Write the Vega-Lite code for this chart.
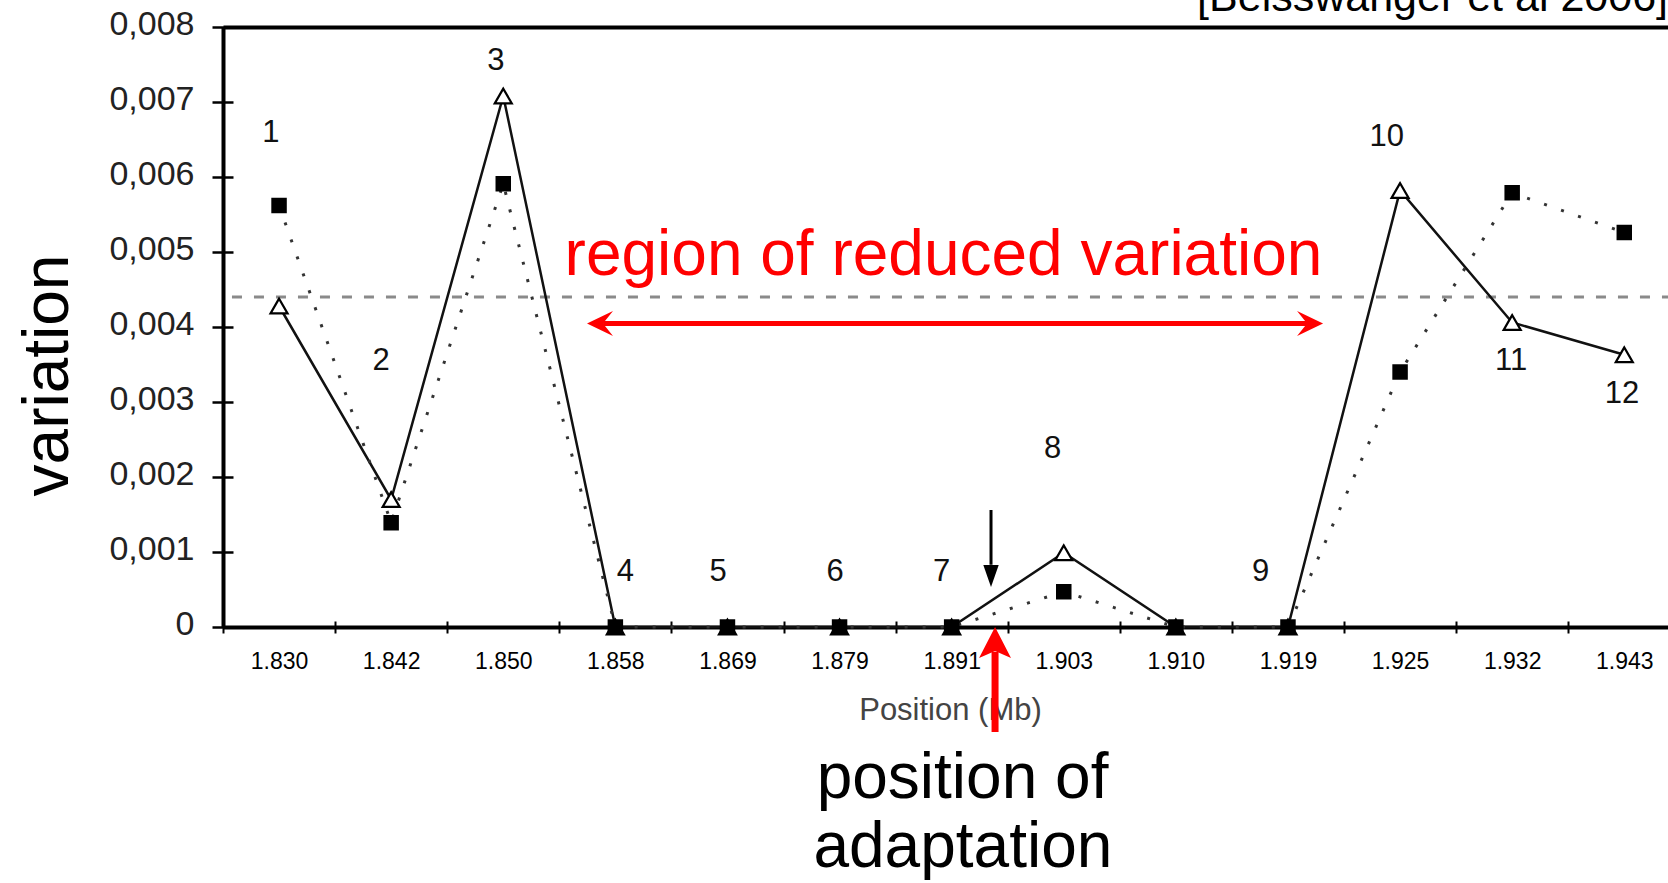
{
  "$schema": "https://vega.github.io/schema/vega-lite/v6.json",
  "width": 1445,
  "height": 600,
  "autosize": {"type": "none"},
  "padding": {"left": 223, "top": 27, "right": 0, "bottom": 256},
  "background": "white",
  "config": {"view": {"stroke": null}, "font": "Liberation Sans", "text": {"font": "Liberation Sans"}},
  "datasets": {
    "loci": [
      {"i": 1, "pos": "1.830", "tri": 0.00428, "sq": 0.00562},
      {"i": 2, "pos": "1.842", "tri": 0.0017, "sq": 0.00139},
      {"i": 3, "pos": "1.850", "tri": 0.00708, "sq": 0.00591},
      {"i": 4, "pos": "1.858", "tri": 0, "sq": 0},
      {"i": 5, "pos": "1.869", "tri": 0, "sq": 0},
      {"i": 6, "pos": "1.879", "tri": 0, "sq": 0},
      {"i": 7, "pos": "1.891", "tri": 0, "sq": 0},
      {"i": 8, "pos": "1.903", "tri": 0.00099, "sq": 0.00047},
      {"i": 9, "pos": "1.910", "tri": 0, "sq": 0},
      {"i": 10, "pos": "1.919", "tri": 0, "sq": 0},
      {"i": 11, "pos": "1.925", "tri": 0.00582, "sq": 0.0034},
      {"i": 12, "pos": "1.932", "tri": 0.00406, "sq": 0.00579},
      {"i": 13, "pos": "1.943", "tri": 0.00363, "sq": 0.00526}
    ],
    "numbers": [
      {"lab": "1", "i": 0.928, "v": 0.00659},
      {"lab": "2", "i": 1.91, "v": 0.00355},
      {"lab": "3", "i": 2.935, "v": 0.00755},
      {"lab": "4", "i": 4.09, "v": 0.00073},
      {"lab": "5", "i": 4.916, "v": 0.00073},
      {"lab": "6", "i": 5.96, "v": 0.00073},
      {"lab": "7", "i": 6.91, "v": 0.00073},
      {"lab": "8", "i": 7.9, "v": 0.00237},
      {"lab": "9", "i": 9.756, "v": 0.00073},
      {"lab": "10", "i": 10.88, "v": 0.00653},
      {"lab": "11", "i": 11.99, "v": 0.00355},
      {"lab": "12", "i": 12.98, "v": 0.00311}
    ],
    "notes": [
      {"part": "dash", "x": 0.58, "x2": 13.39, "y": 0.0044},
      {"part": "band", "x": 3.89, "x2": 10.17, "y": 0.004047},
      {"part": "bandL", "x": 3.747, "y": 0.004047},
      {"part": "bandR", "x": 10.313, "y": 0.004047},
      {"part": "adapt", "x": 7.387, "y": -0.0014, "y2": -0.00033},
      {"part": "adaptTip", "x": 7.387, "y": 0},
      {"part": "sweep", "x": 7.351, "y": 0.00156, "y2": 0.00083},
      {"part": "sweepTip", "x": 7.351, "y": 0.000533}
    ],
    "texts": [
      {"part": "region", "text": "region of reduced variation", "x": 6.927, "y": 0.0047},
      {"part": "adapt", "text": "position of", "x": 7.097, "y": -0.00228},
      {"part": "adapt", "text": "adaptation", "x": 7.1, "y": -0.0032},
      {"part": "cite", "text": "[Beisswanger et al 2006]", "x": 13.39, "y": 0.00821}
    ]
  },
  "layer": [
    {
      "data": {"name": "notes"},
      "transform": [{"filter": "datum.part == 'dash'"}],
      "mark": {"type": "rule", "color": "#8a8a8a", "strokeWidth": 3, "strokeDash": [10, 12]},
      "encoding": {
        "x": {"field": "x", "type": "quantitative", "scale": {"domain": [0.5, 13.39], "nice": false, "zero": false},
          "axis": {"orient": "top", "domain": true, "domainColor": "#000", "domainWidth": 4, "ticks": false, "labels": false, "grid": false, "title": null}},
        "x2": {"field": "x2"},
        "y": {"field": "y", "type": "quantitative", "scale": {"domain": [0, 0.008], "nice": false, "zero": false}, "axis": null}
      }
    },
    {
      "data": {"name": "loci"},
      "mark": {"type": "line", "color": "#111", "strokeWidth": 2.5},
      "encoding": {
        "x": {"field": "i", "type": "quantitative",
          "axis": {"orient": "bottom", "values": [1,2,3,4,5,6,7,8,9,10,11,12,13],
            "labelExpr": "['1.830','1.842','1.850','1.858','1.869','1.879','1.891','1.903','1.910','1.919','1.925','1.932','1.943'][datum.value - 1]",
            "ticks": false, "tickSize": 0, "labelPadding": 23, "labelFontSize": 23, "labelColor": "#000", "labelFont": "Liberation Sans",
            "labelOverlap": false, "labelFlush": false, "labelBound": false,
            "domain": true, "domainColor": "#000", "domainWidth": 4, "grid": false,
            "title": "Position (Mb)", "titleFontSize": 31, "titleFontWeight": "normal", "titleColor": "#444", "titleFont": "Liberation Sans",
            "titleX": 727, "titleY": 92, "titleAlign": "center", "titleBaseline": "alphabetic"}},
        "y": {"field": "tri", "type": "quantitative",
          "axis": {"orient": "left", "values": [0, 0.001, 0.002, 0.003, 0.004, 0.005, 0.006, 0.007, 0.008],
            "labelExpr": "datum.value == 0 ? '0' : replace(format(datum.value, '.3f'), '.', ',')",
            "ticks": false, "tickSize": 0, "labelPadding": 29, "labelFontSize": 34, "labelColor": "#222", "labelFont": "Liberation Sans",
            "labelOverlap": false, "labelFlush": false, "labelOffset": -3,
            "domain": true, "domainColor": "#000", "domainWidth": 4, "grid": false,
            "title": "variation", "titleFontSize": 64, "titleFontWeight": "normal", "titleColor": "#000", "titleFont": "Liberation Sans",
            "titleAngle": 270, "titleX": -175, "titleY": 348, "titleAlign": "center", "titleBaseline": "middle"}}
      }
    },
    {
      "data": {"name": "loci"},
      "mark": {"type": "line", "color": "#333", "strokeWidth": 3, "strokeDash": [3, 15]},
      "encoding": {
        "x": {"field": "i", "type": "quantitative",
          "axis": {"orient": "bottom", "values": [0.5,1.5,2.5,3.5,4.5,5.5,6.5,7.5,8.5,9.5,10.5,11.5,12.5],
            "offset": -6, "ticks": true, "tickSize": 12, "tickWidth": 2, "tickColor": "#000",
            "domain": false, "labels": false, "grid": false, "title": null}},
        "y": {"field": "sq", "type": "quantitative",
          "axis": {"orient": "left", "values": [0, 0.001, 0.002, 0.003, 0.004, 0.005, 0.006, 0.007, 0.008],
            "offset": -10, "ticks": true, "tickSize": 21, "tickWidth": 2.5, "tickColor": "#000",
            "domain": false, "labels": false, "grid": false, "title": null}}
      }
    },
    {
      "data": {"name": "loci"},
      "mark": {"type": "point", "shape": "triangle-up", "filled": true, "fill": "white", "stroke": "#000", "strokeWidth": 2.2, "size": 290, "opacity": 1},
      "encoding": {
        "x": {"field": "i", "type": "quantitative", "axis": null},
        "y": {"field": "tri", "type": "quantitative", "axis": null}
      }
    },
    {
      "data": {"name": "loci"},
      "mark": {"type": "point", "shape": "square", "filled": true, "color": "#000", "size": 240, "opacity": 1},
      "encoding": {
        "x": {"field": "i", "type": "quantitative", "axis": null},
        "y": {"field": "sq", "type": "quantitative", "axis": null}
      }
    },
    {
      "data": {"name": "numbers"},
      "mark": {"type": "text", "fontSize": 31, "color": "#111", "align": "center", "baseline": "middle", "font": "Liberation Sans"},
      "encoding": {
        "x": {"field": "i", "type": "quantitative", "axis": null},
        "y": {"field": "v", "type": "quantitative", "axis": null},
        "text": {"field": "lab"}
      }
    },
    {
      "data": {"name": "notes"},
      "transform": [{"filter": "datum.part == 'band'"}],
      "mark": {"type": "rule", "color": "#ff0000", "strokeWidth": 5},
      "encoding": {
        "x": {"field": "x", "type": "quantitative", "axis": null},
        "x2": {"field": "x2"},
        "y": {"field": "y", "type": "quantitative", "axis": null}
      }
    },
    {
      "data": {"name": "notes"},
      "transform": [{"filter": "datum.part == 'bandR'"}],
      "mark": {"type": "point", "shape": "M0,0 L-2,-0.96 L-1.23,0 L-2,0.96 Z", "filled": true, "color": "#ff0000", "size": 676, "opacity": 1},
      "encoding": {
        "x": {"field": "x", "type": "quantitative", "axis": null},
        "y": {"field": "y", "type": "quantitative", "axis": null}
      }
    },
    {
      "data": {"name": "notes"},
      "transform": [{"filter": "datum.part == 'bandL'"}],
      "mark": {"type": "point", "shape": "M0,0 L2,-0.96 L1.23,0 L2,0.96 Z", "filled": true, "color": "#ff0000", "size": 676, "opacity": 1},
      "encoding": {
        "x": {"field": "x", "type": "quantitative", "axis": null},
        "y": {"field": "y", "type": "quantitative", "axis": null}
      }
    },
    {
      "data": {"name": "notes"},
      "transform": [{"filter": "datum.part == 'adapt'"}],
      "mark": {"type": "rule", "color": "#ff0000", "strokeWidth": 7},
      "encoding": {
        "x": {"field": "x", "type": "quantitative", "axis": null},
        "y": {"field": "y", "type": "quantitative", "axis": null},
        "y2": {"field": "y2"}
      }
    },
    {
      "data": {"name": "notes"},
      "transform": [{"filter": "datum.part == 'adaptTip'"}],
      "mark": {"type": "point", "shape": "M0,0 L-1.03,2 L0,1.55 L1.03,2 Z", "filled": true, "color": "#ff0000", "size": 961, "opacity": 1},
      "encoding": {
        "x": {"field": "x", "type": "quantitative", "axis": null},
        "y": {"field": "y", "type": "quantitative", "axis": null}
      }
    },
    {
      "data": {"name": "notes"},
      "transform": [{"filter": "datum.part == 'sweep'"}],
      "mark": {"type": "rule", "color": "#000", "strokeWidth": 3},
      "encoding": {
        "x": {"field": "x", "type": "quantitative", "axis": null},
        "y": {"field": "y", "type": "quantitative", "axis": null},
        "y2": {"field": "y2"}
      }
    },
    {
      "data": {"name": "notes"},
      "transform": [{"filter": "datum.part == 'sweepTip'"}],
      "mark": {"type": "point", "shape": "M0,0 L-0.7,-2 L0.7,-2 Z", "filled": true, "color": "#000", "size": 484, "opacity": 1},
      "encoding": {
        "x": {"field": "x", "type": "quantitative", "axis": null},
        "y": {"field": "y", "type": "quantitative", "axis": null}
      }
    },
    {
      "data": {"name": "texts"},
      "transform": [{"filter": "datum.part == 'region'"}],
      "mark": {"type": "text", "fontSize": 64, "color": "#ff0000", "align": "center", "baseline": "alphabetic", "font": "Liberation Sans"},
      "encoding": {
        "x": {"field": "x", "type": "quantitative", "axis": null},
        "y": {"field": "y", "type": "quantitative", "axis": null},
        "text": {"field": "text"}
      }
    },
    {
      "data": {"name": "texts"},
      "transform": [{"filter": "datum.part == 'adapt'"}],
      "mark": {"type": "text", "fontSize": 64, "color": "#000", "align": "center", "baseline": "alphabetic", "font": "Liberation Sans"},
      "encoding": {
        "x": {"field": "x", "type": "quantitative", "axis": null},
        "y": {"field": "y", "type": "quantitative", "axis": null},
        "text": {"field": "text"}
      }
    },
    {
      "data": {"name": "texts"},
      "transform": [{"filter": "datum.part == 'cite'"}],
      "mark": {"type": "text", "fontSize": 43, "color": "#000", "align": "right", "baseline": "alphabetic", "font": "Liberation Sans"},
      "encoding": {
        "x": {"field": "x", "type": "quantitative", "axis": null},
        "y": {"field": "y", "type": "quantitative", "axis": null},
        "text": {"field": "text"}
      }
    }
  ],
  "resolve": {"axis": {"x": "independent", "y": "independent"}}
}
